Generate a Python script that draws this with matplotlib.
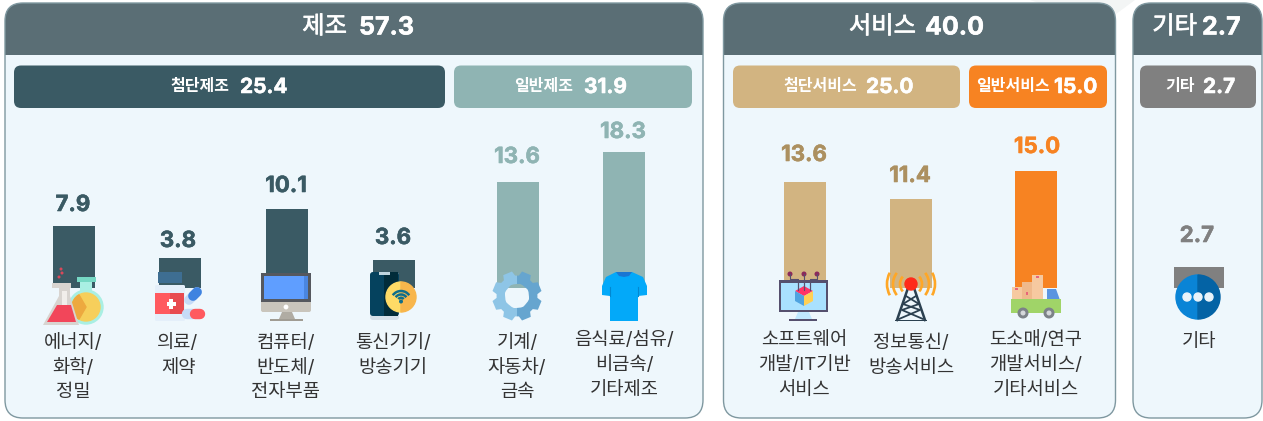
import numpy as np

import matplotlib
matplotlib.use("Agg")

import matplotlib.pyplot as plt
import matplotlib.patheffects as pe
from matplotlib.patches import Circle, FancyBboxPatch, Polygon, Rectangle, Wedge, Arc
from matplotlib.path import Path
from matplotlib.patches import PathPatch

plt.rcParams["font.family"] = ["Inter", "Noto Sans CJK KR", "DejaVu Sans"]

W, H = 1263, 421
BASE_Y = 288      # pixel row of the bars' zero line
PX_PER_UNIT = 7.8
LINE_STEP = 25

HEADER_BG = "#5A6E75"
PANEL_BG = "#EEF7FC"
PANEL_EDGE = "#7F98A0"
DARK = "#3A5A64"
TEAL = "#8FB4B3"
TAN = "#D2B481"
TAN_TEXT = "#AC9060"
ORANGE = "#F78322"
GREY = "#808080"

# panels
panel_names = ["제조", "서비스", "기타"]
panel_values = ["57.3", "40.0", "2.7"]
panel_left = [5, 723.5, 1133]
panel_right = [703, 1115.5, 1262]
panel_name_end = [347, 916, 1197]
panel_value_start = [359, 925, 1202]

# sub headers
sub_names = ["첨단제조", "일반제조", "첨단서비스", "일반서비스", "기타"]
sub_values = ["25.4", "31.9", "25.0", "15.0", "2.7"]
sub_left = [14, 454, 733, 969, 1140]
sub_right = [445, 692, 960, 1107, 1256]
sub_name_end = [229, 573, 857, 1050, 1195]
sub_value_start = [240, 584, 866, 1054, 1203]
sub_colors = [DARK, TEAL, TAN, ORANGE, GREY]

# bars
bar_labels = ["7.9", "3.8", "10.1", "3.6", "13.6", "18.3", "13.6", "11.4", "15.0", "2.7"]
bar_heights = [7.9, 3.8, 10.1, 3.6, 13.6, 17.45, 13.6, 11.4, 15.0, 2.7]
bar_x = [74, 180, 287, 394, 518, 624, 804.5, 911, 1036, 1199]
bar_w = [42, 42, 42, 42, 42, 42, 42, 42, 42, 50]
bar_colors = [DARK, DARK, DARK, DARK, TEAL, TEAL, TAN, TAN, ORANGE, GREY]
text_colors = [DARK, DARK, DARK, DARK, TEAL, TEAL, TAN_TEXT, TAN_TEXT, ORANGE, GREY]
label_y = [205, 241, 186, 238, 157, 132, 155, 176, 147, 236]
label_x = [73, 178, 286, 393, 517, 623, 804, 910, 1037, 1197]

categories = [
    ["에너지/", "화학/", "정밀"],
    ["의료/", "제약"],
    ["컴퓨터/", "반도체/", "전자부품"],
    ["통신기기/", "방송기기"],
    ["기계/", "자동차/", "금속"],
    ["음식료/섬유/", "비금속/", "기타제조"],
    ["소프트웨어", "개발/IT기반", "서비스"],
    ["정보통신/", "방송서비스"],
    ["도소매/연구", "개발서비스/", "기타서비스"],
    ["기타"],
]
cat_x = [73, 178, 286, 393, 517, 624, 804, 911, 1036, 1199]
cat_y = [343, 343, 343, 343, 343, 340, 340, 343, 340, 343]


def thick(color, width=0.4):
    return [pe.withStroke(linewidth=width, foreground=color)]


def rbox(ax, x0, y0, x1, y1, r, **kw):
    p = FancyBboxPatch((x0, y0), x1 - x0, y1 - y0,
                       boxstyle=f"round,pad=0,rounding_size={r}", **kw)
    ax.add_patch(p)
    return p


def poly(ax, pts, color, **kw):
    p = Polygon(pts, closed=True, facecolor=color, edgecolor="none", **kw)
    ax.add_patch(p)
    return p


def rect(ax, x0, y0, x1, y1, color, **kw):
    p = Rectangle((x0, y0), x1 - x0, y1 - y0, facecolor=color, edgecolor="none", **kw)
    ax.add_patch(p)
    return p


def draw_frames(ax):
    # faint background wedge behind the top right
    poly(ax, [(1030, 0), (1135, 0), (1112, 17), (1060, 10)], "#F3F5F5")

    for left, right, name, value, name_end, val_start in zip(
            panel_left, panel_right, panel_names, panel_values, panel_name_end, panel_value_start):
        rbox(ax, left, 3, right, 418, 18, facecolor=PANEL_BG, edgecolor="none")
        head = rbox(ax, left, 3, right, 418, 18, facecolor=HEADER_BG, edgecolor="none")
        head.set_clip_path(Rectangle((left - 2, 0), right - left + 4, 54.5,
                                     transform=ax.transData))
        rbox(ax, left, 3, right, 418, 18, facecolor="none", edgecolor=PANEL_EDGE, linewidth=1.0)
        ax.text(name_end, 27, name, color="white", fontsize=17.5, fontweight="medium",
                ha="right", va="center", path_effects=thick("white", 0.5))
        ax.text(val_start, 28, value, color="white", fontsize=18, fontweight="bold",
                ha="left", va="center", path_effects=thick("white"))

    for left, right, name, value, name_end, val_start, col in zip(
            sub_left, sub_right, sub_names, sub_values, sub_name_end, sub_value_start, sub_colors):
        rbox(ax, left, 65.5, right, 108, 7, facecolor=col, edgecolor="none")
        ax.text(name_end, 86, name, color="white", fontsize=11.5, fontweight="bold",
                ha="right", va="center")
        ax.text(val_start, 87, value, color="white", fontsize=15, fontweight="bold",
                ha="left", va="center", path_effects=thick("white"))


def icon_flasks(ax):
    for dx, dy in [(61, 269), (62, 273), (59, 277)]:
        ax.add_patch(Circle((dx, dy), 0.8, color="#D9485A"))
    # right flask
    ax.add_patch(Circle((86, 307), 17, color="#A9EFE3"))
    rect(ax, 80, 281, 92, 294, "#A9EFE3")
    rect(ax, 77, 277, 96, 282, "#76D8C4")
    ax.add_patch(Circle((86, 307), 14, color="#F6CF5B"))
    ax.add_patch(Wedge((86, 307), 14, 120, 240, color="#EDA93F"))
    # left flask
    poly(ax, [(59, 286), (70, 286), (70, 296), (79, 325), (43, 325), (59, 296)], "#D8D4D0")
    rect(ax, 52, 283, 71, 288, "#D8D4D0")
    poly(ax, [(57, 305), (71, 305), (76, 322), (47, 322)], "#F2465A")
    poly(ax, [(62, 291), (67, 291), (67, 305), (62, 305)], "#F1EEEB")


def icon_medicine(ax):
    rect(ax, 158, 272, 182, 283, "#3E6E92")
    rbox(ax, 155, 285, 185, 321, 1.5, facecolor="#E4EFFA", edgecolor="none")
    rect(ax, 155, 293, 184, 314, "#FF5A5F")
    rect(ax, 170, 293, 184, 314, "#E84B50")
    rect(ax, 166.5, 302, 175.5, 305.5, "white")
    rect(ax, 169.3, 299, 172.7, 308.5, "white")
    # capsule
    ax.plot([189, 197], [300, 292], color="#C6DBF7", lw=7, solid_capstyle="round", zorder=3)
    ax.plot([193, 197], [296, 292], color="#3F83E0", lw=7, solid_capstyle="round", zorder=3)
    ax.plot([187, 193], [314, 314], color="#C6DBF7", lw=7.5, solid_capstyle="round", zorder=3)
    ax.plot([195, 200], [314, 314], color="#FF5A5F", lw=7.5, solid_capstyle="round", zorder=3)


def icon_monitor(ax):
    rbox(ax, 261, 273, 311, 312, 2, facecolor="#C9C5BC", edgecolor="none")
    rect(ax, 261, 273, 311, 302, "#55585E")
    rect(ax, 264, 276, 308, 299, "#5F9EFF")
    rect(ax, 304, 276, 308, 299, "#4A86E0")
    ax.add_patch(Circle((286, 307), 1.7, color="white"))
    poly(ax, [(282, 312), (292, 312), (295, 319), (279, 319)], "#B0ACA3")
    rect(ax, 270, 319, 303, 320.5, "#A09C93")


def icon_phone(ax):
    rbox(ax, 370, 272, 399, 320, 3, facecolor="#D5E1EA", edgecolor="none")
    rbox(ax, 370, 272, 399, 316, 3, facecolor="#05425E", edgecolor="none")
    rect(ax, 384, 272, 398, 316, "#012C3A")
    rect(ax, 379, 272, 390, 274.5, "#BFD5DE")
    ax.add_patch(Wedge((401, 297), 15, 90, 270, color="#FFDB66", zorder=3))
    ax.add_patch(Wedge((401, 297), 15, 270, 90, color="#F8B64C", zorder=3))
    for r in (10, 6.5, 3.2):
        ax.add_patch(Arc((401, 301), 2 * r, 2 * r, theta1=215, theta2=325,
                         color="#0F6E8C", lw=1.8, zorder=4))
    ax.add_patch(Circle((401, 301.5), 1.3, color="#0F6E8C", zorder=4))


def gear_path(cx, cy, r_out, r_in, r_hole, teeth=8):
    pts = []
    step = 2 * np.pi / teeth
    for i in range(teeth):
        a = i * step + step / 2
        for da, r in [(-0.30, r_in), (-0.19, r_out), (0.19, r_out), (0.30, r_in)]:
            pts.append((cx + r * np.cos(a + da), cy + r * np.sin(a + da)))
    pts.append(pts[0])
    outer = Path(pts, closed=True)
    hole = Path.circle((cx, cy), r_hole)
    hole = Path(hole.vertices[::-1], hole.codes[:])
    return Path.make_compound_path(outer, hole)


def icon_gear(ax):
    cx, cy = 517, 296
    path = gear_path(cx, cy, 25, 20.5, 12)
    left = PathPatch(path, facecolor="#8EC5E6", edgecolor="none", zorder=3)
    right = PathPatch(path, facecolor="#66A5CF", edgecolor="none", zorder=3)
    ax.add_patch(left)
    ax.add_patch(right)
    left.set_clip_path(Rectangle((cx - 30, cy - 30), 30, 60, transform=ax.transData))
    right.set_clip_path(Rectangle((cx, cy - 30), 30, 60, transform=ax.transData))


def icon_shirt(ax):
    poly(ax, [(616, 272), (632, 272), (643, 277), (647, 286), (647, 295), (638, 296),
              (638, 321), (610, 321), (610, 296), (602, 295), (602, 286), (606, 277)], "#03A9F9")
    poly(ax, [(616, 272), (632, 272), (629, 276), (624, 277), (619, 276)], "#1976D2")
    ax.plot([610, 610], [287, 296], color="#0288D1", lw=0.8)
    ax.plot([638, 638], [287, 296], color="#0288D1", lw=0.8)


def icon_software(ax):
    for x0, x1 in [(790, 798), (804, 804), (817, 810)]:
        ax.plot([x0, x0, x1, x1], [274, 279, 279, 289], color="#55506E", lw=0.8)
        ax.add_patch(Circle((x0, 274), 1.8, color="#8B2A5C"))
    rect(ax, 779, 280, 828, 312, "#55506E")
    rect(ax, 781, 282.5, 826, 309.5, "#A9E1FF")
    ax.plot([798, 798], [282, 290], color="#55506E", lw=0.8)
    ax.plot([810, 810], [282, 290], color="#55506E", lw=0.8)
    ax.plot([804, 804], [282, 290], color="#55506E", lw=0.8)
    poly(ax, [(804, 286), (813, 291), (804, 296), (795, 291)], "#FF3366")
    poly(ax, [(795, 291), (804, 296), (804, 306), (795, 301)], "#4FA3E0")
    poly(ax, [(813, 291), (804, 296), (804, 306), (813, 301)], "#FFD054")
    poly(ax, [(798, 312), (809, 312), (812, 319), (795, 319)], "#BFE8FF")
    rect(ax, 789, 319, 817, 321, "#55506E")


def icon_tower(ax):
    cx, top = 911, 288
    for r, half in [(11, 42), (18, 38), (24, 28)]:
        ax.add_patch(Arc((cx, 284), 2 * r, 2 * r, theta1=180 - half, theta2=180 + half,
                         color="#FFA726", lw=1.9))
        ax.add_patch(Arc((cx, 284), 2 * r, 2 * r, theta1=-half, theta2=half,
                         color="#FFA726", lw=1.9))
    col = "#2B4050"
    ax.plot([cx - 3, cx - 14], [top, 320], color=col, lw=1.8)
    ax.plot([cx + 3, cx + 14], [top, 320], color=col, lw=1.8)
    ax.plot([cx - 5, cx + 8, cx - 9, cx + 12], [296, 304, 310, 319], color=col, lw=1.3)
    ax.plot([cx + 5, cx - 8, cx + 9, cx - 12], [296, 304, 310, 319], color=col, lw=1.3)
    rect(ax, cx - 16, 319.5, cx + 16, 321, col)
    ax.add_patch(Circle((cx, 284), 6, color="#FF2A1A", zorder=3))


def icon_truck(ax):
    rect(ax, 1012, 287, 1022, 299, "#F6C9A0")
    rect(ax, 1022, 282, 1032, 299, "#EFB98C")
    rect(ax, 1032, 275, 1043, 299, "#F6C9A0")
    rect(ax, 1015, 288, 1018, 290, "#E9657A")
    rect(ax, 1036, 276, 1039, 278, "#E9657A")
    rect(ax, 1026, 292, 1028, 295, "#E9657A")
    poly(ax, [(1047, 289), (1056, 289), (1060, 300), (1047, 300)], "#5B95E0")
    rect(ax, 1011, 299, 1061, 312.5, "#A0D468")
    for wx in (1023, 1049):
        ax.add_patch(Circle((wx, 313), 4.8, color="#7C8288", zorder=3))
        ax.add_patch(Circle((wx, 313), 1.8, color="#D5D8DB", zorder=3))


def icon_dots(ax):
    ax.add_patch(Wedge((1198, 297), 22, 90, 270, color="#0A84D6"))
    ax.add_patch(Wedge((1198, 297), 22, 270, 90, color="#0463A5"))
    for x in (1187, 1198, 1209):
        ax.add_patch(Circle((x, 297), 4, color="#E9F3FA", zorder=3))


def main() -> None:
    fig = plt.figure(figsize=(W / 100, H / 100), dpi=100, facecolor="white")

    ax_bg = fig.add_axes([0, 0, 1, 1])
    ax_bg.set_xlim(0, W)
    ax_bg.set_ylim(H, 0)
    ax_bg.axis("off")
    draw_frames(ax_bg)

    # bars live on their own value scale, zero at BASE_Y
    ax_bar = fig.add_axes([0, 0, 1, 1])
    ax_bar.patch.set_alpha(0)
    ax_bar.set_xlim(0, W)
    ax_bar.set_ylim(-(H - BASE_Y) / PX_PER_UNIT, BASE_Y / PX_PER_UNIT)
    ax_bar.axis("off")
    ax_bar.bar(bar_x, bar_heights, width=bar_w, color=bar_colors)

    ax_top = fig.add_axes([0, 0, 1, 1])
    ax_top.patch.set_alpha(0)
    ax_top.set_xlim(0, W)
    ax_top.set_ylim(H, 0)
    ax_top.axis("off")

    for draw in (icon_flasks, icon_medicine, icon_monitor, icon_phone, icon_gear, icon_shirt,
                 icon_software, icon_tower, icon_truck, icon_dots):
        draw(ax_top)

    for x, y, txt, col in zip(label_x, label_y, bar_labels, text_colors):
        ax_top.text(x, y, txt, color=col, fontsize=16, fontweight="bold", ha="center", va="center",
                    path_effects=thick(col))

    for x, y0, lines in zip(cat_x, cat_y, categories):
        for i, line in enumerate(lines):
            ax_top.text(x, y0 + i * LINE_STEP, line, color="#333333", fontsize=13.5,
                        ha="center", va="center")

    fig.savefig("out.png", dpi=100)
    plt.close(fig)


if __name__ == "__main__":
    main()
